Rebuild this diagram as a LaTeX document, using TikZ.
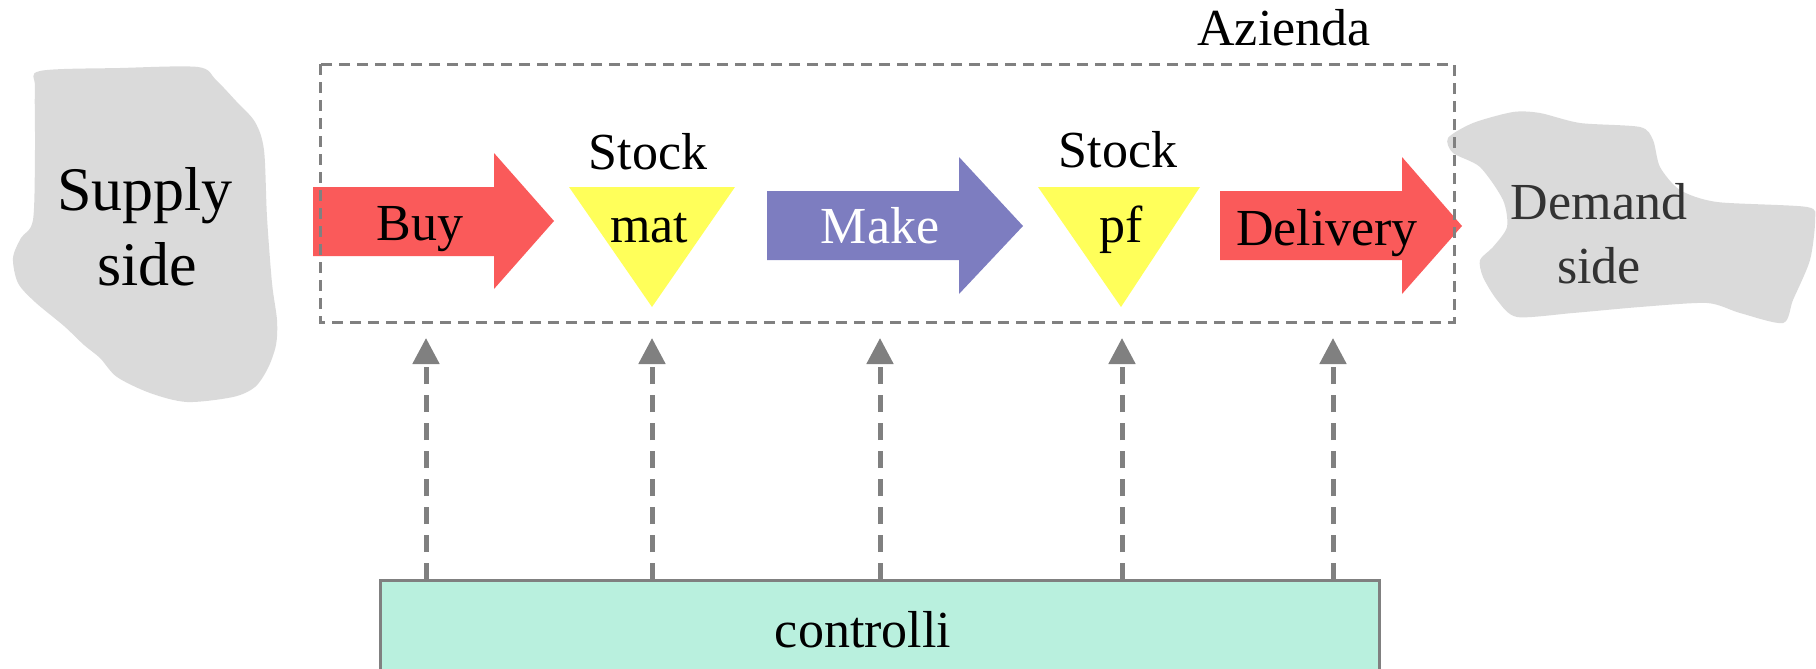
\documentclass[tikz,border=0pt]{standalone}
\usepackage{fontspec}
\setmainfont{Liberation Serif}
\usetikzlibrary{arrows.meta}

\definecolor{flowred}{RGB}{250,90,90}
\definecolor{flowblue}{RGB}{125,125,192}
\definecolor{stockyellow}{RGB}{255,255,90}
\definecolor{ctrlmint}{RGB}{185,240,222}
\definecolor{blobgray}{RGB}{218,218,218}
\definecolor{linegray}{RGB}{128,128,128}

\tikzset{
  lbl/.style={inner sep=0pt, anchor=base, font=\fontsize{26}{30}\selectfont},
  biglbl/.style={inner sep=0pt, anchor=base, font=\fontsize{31}{36}\selectfont},
  blob/.style={fill=blobgray},
  stocktri/.style={fill=stockyellow},
  firmbox/.style={draw=linegray, line width=1.5pt, dash pattern=on 5.5pt off 3.5pt},
  ctrlbox/.style={draw=linegray, line width=1.5pt, fill=ctrlmint},
  conn/.style={draw=linegray, line width=2.5pt, dash pattern=on 8.5pt off 5.5pt,
    -{Triangle[width=13pt, length=13pt, fill=linegray]}},
}

\begin{document}
\begin{tikzpicture}[x=0.5pt, y=-0.5pt]
\useasboundingbox (0,0) rectangle (1816,669);

% supply and demand regions
\fill[blob] plot[smooth cycle, tension=0.5] coordinates {
  (40,71) (120,68) (198,67) (216,80) (236,101) (255,122) (264,150)
  (267,217) (272,283) (277,320) (276,345) (268,368) (255,387) (233,397)
  (187,402) (150,393) (117,377) (100,358) (84,345) (64,326) (35,302)
  (18,283) (13,258) (21,238) (33,220) (35,150) (35,88)};
\fill[blob] plot[smooth cycle, tension=0.45] coordinates {
  (1448,138) (1473,123) (1513,112) (1540,113) (1580,123) (1640,127)
  (1653,140) (1660,167) (1680,190) (1717,202) (1807,207) (1815,220)
  (1810,260) (1793,300) (1783,323) (1740,313) (1707,303) (1640,307)
  (1573,313) (1517,317) (1497,300) (1483,277) (1480,260) (1493,247)
  (1507,227) (1503,200) (1480,167) (1453,153)};

% process flow arrows
\fill[flowred] (313,187) -- (494,187) -- (494,153) -- (554,221)
  -- (494,289) -- (494,256) -- (313,256) -- cycle;
\fill[flowblue] (767,191) -- (959,191) -- (959,157) -- (1023,226)
  -- (959,294) -- (959,260) -- (767,260) -- cycle;
\fill[flowred] (1220,191) -- (1402,191) -- (1402,157) -- (1462,226)
  -- (1402,294) -- (1402,260) -- (1220,260) -- cycle;

% stock points
\fill[stocktri] (569,187) -- (735,187) -- (652,307) -- cycle;
\fill[stocktri] (1038,187) -- (1200,187) -- (1121,307) -- cycle;

% company boundary
\draw[firmbox] (320,64) rectangle (1454,322);

% labels
\node[biglbl] (supply) at (145,210) {Supply};
\node[biglbl] (supplyb) at (147,285) {side};
\node[lbl, text=black!80] (demand) at (1599,219) {Demand};
\node[lbl, text=black!80] (demandb) at (1599,283) {side};
\node[lbl] (azienda) at (1284,45) {Azienda};
\node[lbl] (buy) at (420,240) {Buy};
\node[lbl] (stock1) at (648,169) {Stock};
\node[lbl] (mat) at (649,242) {mat};
\node[lbl, text=white] (make) at (880,243) {Make};
\node[lbl] (stock2) at (1118,167) {Stock};
\node[lbl] (pf) at (1121,242) {pf};
\node[lbl] (delivery) at (1327,245) {Delivery};

% control layer
\path[ctrlbox] (380,580) rectangle (1379,680);
\coordinate (ctrltop) at (880,580);
\node[lbl] (ctrl) at (863,647) {controlli};

\coordinate (t1) at (426,338);
\coordinate (t2) at (652,338);
\coordinate (t3) at (880,338);
\coordinate (t4) at (1122,338);
\coordinate (t5) at (1333,338);
\foreach \t in {t1,t2,t3,t4,t5}
  \draw[conn] (ctrltop -| \t) -- (\t);
\end{tikzpicture}
\end{document}
